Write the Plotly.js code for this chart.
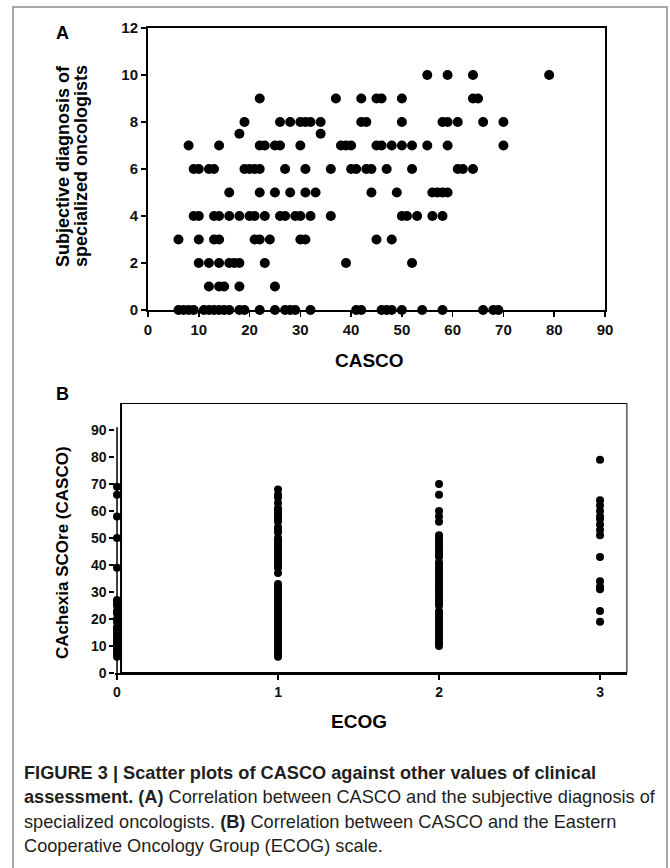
<!DOCTYPE html>
<html>
<head>
<meta charset="utf-8">
<script src="https://cdn.plot.ly/plotly-3.0.1.min.js"></script>
<style>
html,body{margin:0;padding:0;background:#fff;}
#chart{width:670px;height:868px;}
</style>
</head>
<body>
<div id="chart"></div>
<script>
// ---------- Panel A: CASCO (x) grouped by subjective diagnosis score (y) ----------
const diagLevels = [0, 1, 2, 3, 4, 5, 6, 7, 7.5, 8, 9, 10];
const cascoDiag0  = [6,7,8,9,11,12,13,14,15,16,18,19,22,25,27,28,29,32,41,42,46,47,48,50,54,58,66,68,69];
const cascoDiag1  = [12,14,15,18,25];
const cascoDiag2  = [10,12,14,16,17,18,23,39,52];
const cascoDiag3  = [6,10,13,14,21,22,24,30,31,45,48];
const cascoDiag4  = [9,10,13,14,16,18,20,21,23,26,27,29,30,32,36,50,51,53,56,58];
const cascoDiag5  = [16,22,25,28,31,33,44,49,56,57,58,59];
const cascoDiag6  = [9,10,12,13,19,20,21,22,27,31,36,40,41,43,44,47,52,61,62,64];
const cascoDiag7  = [8,14,22,23,25,26,30,38,39,40,45,46,48,50,52,55,59,70];
const cascoDiag75 = [18,34];
const cascoDiag8  = [19,26,28,30,31,32,34,42,43,50,58,59,61,66,70];
const cascoDiag9  = [22,37,42,45,46,50,64,65];
const cascoDiag10 = [55,59,64,79];
const cascoByDiag = [cascoDiag0,cascoDiag1,cascoDiag2,cascoDiag3,cascoDiag4,cascoDiag5,
                     cascoDiag6,cascoDiag7,cascoDiag75,cascoDiag8,cascoDiag9,cascoDiag10];
const xTicksA = [0,10,20,30,40,50,60,70,80,90];
const yTicksA = [0,2,4,6,8,10,12];

// ---------- Panel B: CASCO by ECOG ----------
const ecogLevels = [0, 1, 2, 3];
const cascoEcog0 = [69,66,58,50,39,27,26,25,23,22,20,19,17,16,15,14,13,12,11,10,9,8,7,6];
const cascoEcog1 = [68,66,65,63,61,60,59,58,57,56,54,53,52,50,49,48,47,46,45,44,43,42,41,40,39,37,
                    33,32,31,30,29,28,27,26,25,24,23,22,21,20,19,18,17,16,15,14,13,12,11,10,9,8,7,6];
const cascoEcog2 = [70,66,60,58,56,51,50,49,48,47,46,45,44,43,41,40,39,38,37,36,35,34,33,32,31,30,
                    29,28,27,26,25,23,22,21,20,19,18,17,16,15,14,13,12,11,10];
const cascoEcog3 = [79,64,62,60,58,57,55,53,51,43,34,32,31,23,19];
const cascoByEcog = [cascoEcog0,cascoEcog1,cascoEcog2,cascoEcog3];
const xTicksB = [0,1,2,3];
const yTicksB = [0,10,20,30,40,50,60,70,80,90];

// ---------- build traces ----------
const ax = [], ay = [];
cascoByDiag.forEach((arr,i)=>arr.forEach(v=>{ax.push(v); ay.push(diagLevels[i]);}));
const bx = [], by = [];
cascoByEcog.forEach((arr,i)=>arr.forEach(v=>{bx.push(ecogLevels[i]); by.push(v);}));

const W = 670, H = 868;
const px = v => v / W;
const py = v => 1 - v / H;

const FONT = '"Liberation Sans", Arial, Helvetica, sans-serif';

const traces = [
  {type:'scatter', mode:'markers', x:ax, y:ay, xaxis:'x', yaxis:'y',
   marker:{color:'#000', size:10, line:{width:0}}, cliponaxis:false, hoverinfo:'x+y'},
  {type:'scatter', mode:'markers', x:bx, y:by, xaxis:'x2', yaxis:'y2',
   marker:{color:'#000', size:8, line:{width:0}}, cliponaxis:false, hoverinfo:'x+y'}
];

const tickFontA = {family:FONT, size:15, color:'#111', weight:'bold'};
const tickFontB = {family:FONT, size:14, color:'#111', weight:'bold'};
const capFont = {family:FONT, size:18.2, color:'#231f20'};

const layout = {
  width:W, height:H,
  margin:{l:0,r:0,t:0,b:0},
  paper_bgcolor:'#fff', plot_bgcolor:'#fff',
  showlegend:false,
  xaxis:{domain:[px(148),px(605)], range:[0,90], tickvals:xTicksA, ticktext:xTicksA.map(String),
         showgrid:false, zeroline:false, showline:true, mirror:true, linecolor:'#000', linewidth:2,
         ticks:'outside', ticklen:5, tickwidth:1.5, tickcolor:'#000', tickfont:tickFontA, anchor:'y'},
  yaxis:{domain:[py(310),py(28)], range:[0,12], tickvals:yTicksA, ticktext:yTicksA.map(String),
         showgrid:false, zeroline:false, showline:true, mirror:true, linecolor:'#000', linewidth:2,
         ticks:'outside', ticklen:5, tickwidth:1.5, tickcolor:'#000', tickfont:tickFontA, anchor:'x'},
  xaxis2:{domain:[px(115.4),px(627.4)], range:[-0.01,3.17], tickvals:xTicksB, ticktext:xTicksB.map(String),
         showgrid:false, zeroline:false, showline:true, linecolor:'#000', linewidth:2,
         ticks:'outside', ticklen:5, tickwidth:1.5, tickcolor:'#000', tickfont:tickFontB, anchor:'y2'},
  yaxis2:{domain:[py(673),py(403)], range:[0,100], tickvals:yTicksB, ticktext:yTicksB.map(String),
         showgrid:false, zeroline:false, showline:false,
         ticks:'outside', ticklen:5, tickwidth:1.5, tickcolor:'#000', tickfont:tickFontB, anchor:'x2'},
  shapes:[
    // outer figure frame
    {type:'rect', xref:'paper', yref:'paper', x0:px(13), x1:px(667), y0:-0.05, y1:py(7),
     line:{color:'#8c8c8c', width:1.5}, fillcolor:'rgba(0,0,0,0)', layer:'below'},
    // panel B box
    {type:'rect', xref:'x2', yref:'y2', x0:0.025, x1:3.17, y0:0, y1:100,
     line:{color:'#000', width:2}, fillcolor:'rgba(0,0,0,0)'},
    // panel B y-axis line at ECOG 0
    {type:'line', xref:'x2', yref:'y2', x0:0, x1:0, y0:0, y1:91,
     line:{color:'#000', width:1.5}}
  ],
  annotations:[
    {text:'<b>A</b>', xref:'paper', yref:'paper', x:px(62), y:py(33), xanchor:'center', yanchor:'middle',
     showarrow:false, font:{family:FONT, size:18, color:'#000'}},
    {text:'<b>B</b>', xref:'paper', yref:'paper', x:px(62), y:py(394), xanchor:'center', yanchor:'middle',
     showarrow:false, font:{family:FONT, size:18, color:'#000'}},
    {text:'<b>Subjective diagnosis of</b>', xref:'paper', yref:'paper', x:px(63), y:py(166), textangle:-90,
     xanchor:'center', yanchor:'middle', showarrow:false, font:{family:FONT, size:18, color:'#000'}},
    {text:'<b>specialized oncologists</b>', xref:'paper', yref:'paper', x:px(81), y:py(166), textangle:-90,
     xanchor:'center', yanchor:'middle', showarrow:false, font:{family:FONT, size:18, color:'#000'}},
    {text:'<b>CASCO</b>', xref:'paper', yref:'paper', x:px(369), y:py(360), xanchor:'center', yanchor:'middle',
     showarrow:false, font:{family:FONT, size:19, color:'#000'}},
    {text:'<b>CAchexia SCOre (CASCO)</b>', xref:'paper', yref:'paper', x:px(62), y:py(553), textangle:-90,
     xanchor:'center', yanchor:'middle', showarrow:false, font:{family:FONT, size:17, color:'#000'}},
    {text:'<b>ECOG</b>', xref:'paper', yref:'paper', x:px(359), y:py(721), xanchor:'center', yanchor:'middle',
     showarrow:false, font:{family:FONT, size:19, color:'#000'}},
    {text:'<b>FIGURE 3 | Scatter plots of CASCO against other values of clinical</b>', xref:'paper', yref:'paper',
     x:px(22), y:py(773), xanchor:'left', yanchor:'middle', showarrow:false, font:capFont},
    {text:'<b>assessment. (A)</b> Correlation between CASCO and the subjective diagnosis of', xref:'paper', yref:'paper',
     x:px(22), y:py(797), xanchor:'left', yanchor:'middle', showarrow:false, font:capFont},
    {text:'specialized oncologists. <b>(B)</b> Correlation between CASCO and the Eastern', xref:'paper', yref:'paper',
     x:px(22), y:py(822), xanchor:'left', yanchor:'middle', showarrow:false, font:capFont},
    {text:'Cooperative Oncology Group (ECOG) scale.', xref:'paper', yref:'paper',
     x:px(22), y:py(846), xanchor:'left', yanchor:'middle', showarrow:false, font:capFont}
  ]
};

Plotly.newPlot('chart', traces, layout, {staticPlot:true, displayModeBar:false});
</script>
</body>
</html>
